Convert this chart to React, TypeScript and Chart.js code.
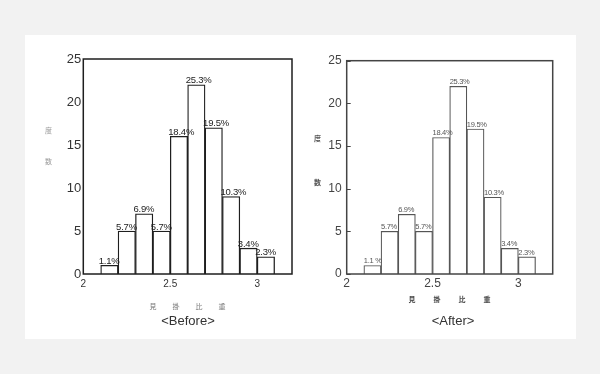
import React, { useEffect, useRef } from 'react';
import { Chart, registerables } from 'chart.js';
Chart.register(...registerables);

// ---- data ----
const BIN_CENTERS = [2.15, 2.25, 2.35, 2.45, 2.55, 2.65, 2.75, 2.85, 2.95, 3.05];
const COUNTS_BEFORE = [1, 5, 7, 5, 16, 22, 17, 9, 3, 2];
const COUNTS_AFTER = [1, 5, 7, 5, 16, 22, 17, 9, 3, 2];
const PERCENT_BEFORE = ['1.1%', '5.7%', '6.9%', '5.7%', '18.4%', '25.3%', '19.5%', '10.3%', '3.4%', '2.3%'];
const PERCENT_AFTER = ['1.1 %', '5.7%', '6.9%', '5.7%', '18.4%', '25.3%', '19.5%', '10.3%', '3.4%', '2.3%'];
const X_TICKS = [2, 2.5, 3];
const Y_TICKS = [0, 5, 10, 15, 20, 25];
const X_MIN = 2;
const X_MAX = 3.2;
const Y_MIN = 0;
const Y_MAX = 25;
const X_TITLE_CHARS = ['見', '掛', '比', '重'];
const Y_TITLE_CHARS = ['度', '数'];
const CAPTION_BEFORE = '<Before>';
const CAPTION_AFTER = '<After>';

type PanelCfg = {
  left: number; top: number; w: number; h: number;
  yAxisWidth: number; xAxisHeight: number;
  padTop: number; padRight: number;
  counts: number[]; labels: string[];
  barColor: string; barWidth: number;
  frameColor: string; frameWidth: number;
  innerTicks: boolean;
  tickFontY: number; tickFontX: number; tickColor: string; yPad: number; xPad: number;
  labelFont: string; labelColor: string; labelDx: number; labelDy: number; labelSpacing: string;
  yTitleX: number; yTitleYs: number[]; yTitleFont: string; yTitleColor: string;
  xTitleXs: number[]; xTitleY: number; xTitleFont: string; xTitleColor: string;
  caption: string; captionX: number; captionY: number; captionFont: string; captionColor: string;
};

function Panel({ cfg }: { cfg: PanelCfg }) {
  const ref = useRef<HTMLCanvasElement>(null);
  useEffect(() => {
    const decor = {
      id: 'decor',
      afterDraw(chart: any) {
        const ctx = chart.ctx as CanvasRenderingContext2D;
        const ca = chart.chartArea;
        ctx.save();
        // frame
        ctx.strokeStyle = cfg.frameColor;
        ctx.lineWidth = cfg.frameWidth;
        ctx.strokeRect(ca.left, ca.top, ca.right - ca.left, ca.bottom - ca.top);
        // inner ticks
        if (cfg.innerTicks) {
          const ys = chart.scales.y;
          ctx.lineWidth = 1;
          Y_TICKS.forEach((v) => {
            const py = Math.round(ys.getPixelForValue(v)) + 0.5;
            ctx.beginPath();
            ctx.moveTo(ca.left, py);
            ctx.lineTo(ca.left + 4, py);
            ctx.stroke();
          });
        }
        // percent labels
        const meta = chart.getDatasetMeta(0);
        ctx.fillStyle = cfg.labelColor;
        ctx.font = cfg.labelFont;
        (ctx as any).letterSpacing = cfg.labelSpacing;
        ctx.textAlign = 'left';
        ctx.textBaseline = 'alphabetic';
        meta.data.forEach((bar: any, i: number) => {
          const p = bar.getProps(['x', 'y', 'width'], true);
          ctx.fillText(cfg.labels[i], p.x - p.width / 2 + cfg.labelDx, p.y - cfg.labelDy);
        });
        (ctx as any).letterSpacing = '0px';
        // y title
        ctx.fillStyle = cfg.yTitleColor;
        ctx.font = cfg.yTitleFont;
        ctx.textAlign = 'center';
        ctx.textBaseline = 'middle';
        Y_TITLE_CHARS.forEach((c, i) => ctx.fillText(c, cfg.yTitleX, cfg.yTitleYs[i]));
        // x title
        ctx.fillStyle = cfg.xTitleColor;
        ctx.font = cfg.xTitleFont;
        X_TITLE_CHARS.forEach((c, i) => ctx.fillText(c, cfg.xTitleXs[i], cfg.xTitleY));
        // caption
        ctx.fillStyle = cfg.captionColor;
        ctx.font = cfg.captionFont;
        ctx.fillText(cfg.caption, cfg.captionX, cfg.captionY);
        ctx.restore();
      },
    };
    const chart = new Chart(ref.current as HTMLCanvasElement, {
      type: 'bar',
      data: {
        datasets: [
          {
            data: BIN_CENTERS.map((x, i) => ({ x, y: cfg.counts[i] })) as any,
            backgroundColor: '#ffffff',
            borderColor: cfg.barColor,
            borderWidth: cfg.barWidth,
            barPercentage: 1,
            categoryPercentage: 1,
            borderSkipped: 'start',
          },
        ],
      },
      options: {
        animation: false,
        responsive: false,
        layout: { padding: { top: cfg.padTop, right: cfg.padRight, left: 0, bottom: 0 } },
        plugins: { legend: { display: false }, tooltip: { enabled: false } },
        scales: {
          x: {
            type: 'linear',
            min: X_MIN,
            max: X_MAX,
            offset: false,
            grid: { display: false, drawTicks: false, tickLength: 0 },
            border: { display: false },
            afterBuildTicks: (s: any) => { s.ticks = X_TICKS.map((v) => ({ value: v })); },
            afterFit: (s: any) => { s.height = cfg.xAxisHeight; },
            ticks: {
              autoSkip: false,
              maxRotation: 0,
              padding: cfg.xPad,
              color: cfg.tickColor,
              font: { family: 'Liberation Sans', size: cfg.tickFontX },
              callback: (v: any) => String(v),
            },
          },
          y: {
            min: Y_MIN,
            max: Y_MAX,
            grid: { display: false, drawTicks: false, tickLength: 0 },
            border: { display: false },
            afterBuildTicks: (s: any) => { s.ticks = Y_TICKS.map((v) => ({ value: v })); },
            afterFit: (s: any) => { s.width = cfg.yAxisWidth; },
            ticks: {
              padding: cfg.yPad,
              color: cfg.tickColor,
              font: { family: 'Liberation Sans', size: cfg.tickFontY },
            },
          },
        },
      },
      plugins: [decor],
    });
    return () => chart.destroy();
  }, []);
  return (
    <canvas
      ref={ref}
      width={cfg.w}
      height={cfg.h}
      style={{ position: 'absolute', left: cfg.left, top: cfg.top, width: cfg.w, height: cfg.h }}
    />
  );
}

const LEFT: PanelCfg = {
  left: 25, top: 35, w: 285, h: 304,
  yAxisWidth: 58.3, xAxisHeight: 65, padTop: 24, padRight: 18,
  counts: COUNTS_BEFORE, labels: PERCENT_BEFORE,
  barColor: '#1e1e1e', barWidth: 1.3,
  frameColor: '#1e1e1e', frameWidth: 1.5,
  innerTicks: false,
  tickFontY: 13, tickFontX: 10, tickColor: '#333333', yPad: 2, xPad: 4,
  labelFont: '9.5px "Liberation Sans"', labelColor: '#222222', labelDx: -2, labelDy: 1.5, labelSpacing: '-0.2px',
  yTitleX: 23.5, yTitleYs: [95.7, 126.7], yTitleFont: '7px "Noto Sans CJK JP"', yTitleColor: '#999999',
  xTitleXs: [128, 151, 174, 197], xTitleY: 271, xTitleFont: '7px "Noto Sans CJK JP"', xTitleColor: '#777777',
  caption: CAPTION_BEFORE, captionX: 163, captionY: 286, captionFont: '13px "Liberation Sans"', captionColor: '#333333',
};

const RIGHT: PanelCfg = {
  left: 310, top: 35, w: 266, h: 304,
  yAxisWidth: 36.7, xAxisHeight: 65, padTop: 25.7, padRight: 23.3,
  counts: COUNTS_AFTER, labels: PERCENT_AFTER,
  barColor: '#555555', barWidth: 1.2,
  frameColor: '#444444', frameWidth: 1.5,
  innerTicks: true,
  tickFontY: 12, tickFontX: 12, tickColor: '#444444', yPad: 5, xPad: 2,
  labelFont: '7.5px "Liberation Sans"', labelColor: '#555555', labelDx: 0, labelDy: 2, labelSpacing: '-0.3px',
  yTitleX: 7.5, yTitleYs: [103, 147], yTitleFont: 'bold 7px "Noto Sans CJK JP"', yTitleColor: '#555555',
  xTitleXs: [102, 127, 152, 177], xTitleY: 264, xTitleFont: 'bold 7px "Noto Sans CJK JP"', xTitleColor: '#444444',
  caption: CAPTION_AFTER, captionX: 143, captionY: 286, captionFont: '13px "Liberation Sans"', captionColor: '#333333',
};

export default function App() {
  return (
    <div style={{ position: 'absolute', left: 0, top: 0, width: 600, height: 374, background: '#f2f2f2', overflow: 'hidden' }}>
      <div style={{ position: 'absolute', left: 25, top: 35, width: 551, height: 304, background: '#ffffff' }} />
      <Panel cfg={LEFT} />
      <Panel cfg={RIGHT} />
    </div>
  );
}
